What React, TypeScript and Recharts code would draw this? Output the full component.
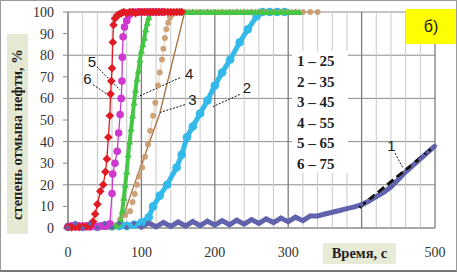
import React from "react";
import {
  CartesianGrid,
  Line,
  LineChart,
  ReferenceDot,
  ReferenceLine,
  XAxis,
  YAxis,
} from "recharts";

const W = 457;
const H = 272;

// grid / tick values (s, %)
const X_GRID = [0, 20, 40, 60, 80, 100, 120, 140, 160, 180, 200, 220, 240, 260, 280, 300, 320, 340, 360, 380, 400, 420, 440, 460, 480, 500];
const X_MAJOR = [0, 100, 200, 300, 400, 500];
const X_LABELS = [0, 100, 200, 300, 500];
const Y_TICKS = [0, 10, 20, 30, 40, 50, 60, 70, 80, 90, 100];

// 1 – 25 °C
const T1 = [0, 10, 20, 30, 40, 50, 60, 70, 80, 90, 100, 110, 120, 130, 140, 150, 160, 170, 180, 190, 200, 210, 220, 230, 240, 250, 260, 270, 280, 290, 300, 310, 320, 330, 340, 350, 360, 370, 380, 390, 400, 410, 420, 430, 440, 450, 460, 470, 480, 490, 500];
const V1 = [0.2, 2, 0, 2, 0.2, 2, 0.2, 2.2, 0.3, 2.2, 0.4, 2.4, 0.5, 2.6, 0.7, 2.8, 0.9, 3, 1.1, 3.2, 1.3, 3.4, 1.5, 3.6, 1.8, 3.9, 2.1, 4.2, 2.5, 4.6, 2.9, 5, 3.4, 5.6, 5.6, 6.5, 7.3, 8.1, 9, 9.8, 10.8, 12.5, 14.5, 16.5, 19, 22.5, 26, 29, 32, 35, 38];
// dashed fit on curve 1
const FIT1_T = [397, 500];
const FIT1_V = [9.5, 38];

// 2 – 35 °C
const T2 = [0, 10, 20, 30, 40, 50, 60, 70, 80, 90, 100, 110, 116, 125, 135, 148, 155, 162, 170, 180, 190, 200, 210, 221, 234, 245, 257, 265, 275, 285, 295];
const V2 = [0.5, 1, 0.5, 1, 0.5, 1, 0.8, 1, 1, 1.5, 2.5, 5, 10, 15, 20, 28, 34, 42, 47, 53, 59, 66, 72, 78, 86, 92, 98, 100, 100, 100, 100];

// 3 – 45 °C
const T3 = [0, 10, 20, 30, 40, 50, 60, 65, 71, 78, 84.5, 88, 91, 94, 97, 101, 105, 109, 112, 116, 119, 122.5, 125, 128, 130, 132, 134, 136.5, 139, 142, 146, 150, 160, 170, 180, 190, 200, 210, 220, 230, 240, 250, 260, 270, 280, 290, 300, 310, 320, 330, 340];
const V3 = [0.5, 0.8, 0.5, 0.8, 0.5, 0.8, 0.6, 1, 4, 6, 7.8, 12, 15.7, 20, 24, 28, 33, 38.7, 45, 52, 58, 66, 72, 78, 83, 88, 92, 95, 97.5, 99, 99.5, 100, 100, 100, 100, 100, 100, 100, 100, 100, 100, 100, 100, 100, 100, 100, 100, 100, 100, 100, 100];
// thin trend line next to curve 3
const TR3_T = [70, 85, 125, 159];
const TR3_V = [0, 15, 53, 100];

// 4 – 55 °C
const T4 = [0, 10, 20, 30, 40, 50, 60, 65, 70, 72, 74, 76, 78, 80, 82, 84, 86, 88, 90, 92, 94, 96, 98, 100, 102, 104, 106, 108, 110, 112, 115, 120, 125, 130, 135, 140, 145, 150, 155, 160, 165, 170, 175, 180, 185, 190, 195, 200, 205, 210, 215, 220, 225, 230, 235, 240, 245, 250, 255, 260, 265, 270, 275, 280, 285, 290, 295, 300, 305, 310, 315];
const V4 = [0.5, 0.5, 0.6, 0.5, 0.6, 0.5, 0.6, 1, 2, 4, 8, 14, 20, 26, 34, 40, 46, 52, 58, 64, 69, 73, 78, 82, 85, 88, 92, 95, 97.5, 99.5, 100, 100, 100, 100, 100, 100, 100, 100, 100, 100, 100, 100, 100, 100, 100, 100, 100, 100, 100, 100, 100, 100, 100, 100, 100, 100, 100, 100, 100, 100, 100, 100, 100, 100, 100, 100, 100, 100, 100, 100, 100];

// 5 – 65 °C
const T5 = [0, 5, 10, 15, 20, 25, 30, 35, 40, 45, 50, 54, 57, 60, 61, 64, 67, 69, 71, 72.5, 73.5, 74, 75, 77, 80, 83, 86, 90, 95, 100, 105, 110, 115, 120, 125, 130];
const V5 = [0.5, 1, 0.5, 1, 0.5, 1, 0.5, 1, 0.5, 1, 0.8, 1, 2, 16, 25, 30, 35.5, 44, 52.5, 60, 68, 79, 88.5, 93, 96, 98.5, 99.5, 100, 100, 100, 100, 100, 100, 100, 100, 100];

// 6 – 75 °C
const T6 = [0, 5, 10, 15, 20, 25, 30, 34, 37, 40, 44, 48, 51, 53, 55, 57, 58, 59, 60, 61, 62, 64, 67, 70, 73, 76, 80, 84, 88, 92, 96, 100, 104, 108, 112, 116, 120, 124, 128, 132, 136, 140, 144, 148, 152, 155];
const V6 = [0.5, 0.3, 0.6, 0.4, 0.8, 0.6, 1, 3, 6.5, 11, 17, 20, 26, 32, 42, 52, 62, 68, 74, 86, 94, 97, 98.5, 99, 99.5, 100, 99.5, 100, 100, 99.5, 100, 100, 100, 100, 100, 100, 100, 100, 100, 100, 100, 100, 100, 100, 100, 100];

const LEGEND = ["1 – 25", "2 – 35", "3 – 45", "4 – 55", "5 – 65", "6 – 75"];

// curve labels and their leader lines: [label, lx, ly, x1, y1, x2, y2]
const CALLOUTS: [string, number, number, number, number, number, number][] = [
  ["5", 32.7, 77, 39.5, 74.6, 70.8, 64],
  ["6", 26.6, 69, 34, 66.4, 60, 60.4],
  ["4", 165, 71.4, 152.6, 69.6, 95.4, 60.8],
  ["3", 169.6, 59.4, 159.4, 57.1, 125.3, 53.5],
  ["2", 243.9, 65, 234, 61.8, 197.5, 56.2],
  ["1", 440.7, 38.2, 445.5, 34.6, 456, 28],
];

const BLUE = "#6163ad";
const CYAN = "#33b9ea";
const TAN = "#c99a6b";
const BROWN = "#a8703e";
const GREEN = "#45c645";
const MAGENTA = "#cf38cf";
const RED = "#e01b24";

const zip = (t: number[], v: number[]) => t.map((x, i) => ({ t: x, v: v[i] }));

const SERIF = "'Liberation Serif', 'DejaVu Serif', serif";
const SANS = "'Liberation Sans', Arial, sans-serif";

const diamond = (fill: string, s: number) => (p: any) => {
  const { cx, cy, index } = p;
  if (cx == null || cy == null) return <g key={`d${index}`} />;
  return (
    <path
      key={`d${index}`}
      d={`M${cx},${cy - s}L${cx + s},${cy}L${cx},${cy + s}L${cx - s},${cy}Z`}
      fill={fill}
    />
  );
};

const triangle = (fill: string, s: number) => (p: any) => {
  const { cx, cy, index } = p;
  if (cx == null || cy == null) return <g key={`t${index}`} />;
  return (
    <path
      key={`t${index}`}
      d={`M${cx},${cy - s}L${cx + s},${cy + s * 0.8}L${cx - s},${cy + s * 0.8}Z`}
      fill={fill}
    />
  );
};

const circle = (fill: string, r: number, opacity = 1) => (p: any) => {
  const { cx, cy, index } = p;
  if (cx == null || cy == null) return <g key={`c${index}`} />;
  return <circle key={`c${index}`} cx={cx} cy={cy} r={r} fill={fill} fillOpacity={opacity} />;
};

// vertical grid: darker every 100 s
const vGridLine = (p: any) => {
  const major = X_MAJOR.includes(X_GRID[p.index]);
  return (
    <line
      key={`vg${p.index}`}
      x1={p.x1}
      y1={p.y1}
      x2={p.x2}
      y2={p.y2}
      stroke={major ? "#7c7c7c" : "#c8c8c8"}
      strokeWidth={major ? 1.3 : 1}
    />
  );
};

export default function App() {
  return (
    <div
      style={{
        position: "relative",
        width: W,
        height: H,
        background: "#fff",
        boxSizing: "border-box",
        border: "1px solid #9a9a9a",
        borderBottom: "2px solid #777",
        overflow: "hidden",
      }}
    >
      <style>{"body{margin:0}"}</style>
      <LineChart
        width={W - 2}
        height={H - 3}
        margin={{ top: 11, right: 21, bottom: 0, left: 7 }}
        style={{ position: "absolute", left: 0, top: 0 }}
      >
        <CartesianGrid stroke="#8a8a8a" vertical={vGridLine} />
        <XAxis
          type="number"
          dataKey="t"
          domain={[0, 500]}
          ticks={X_GRID}
          interval={0}
          tickFormatter={(v: number) => (X_LABELS.includes(v) ? String(v) : "")}
          tickLine={false}
          tickSize={0}
          tickMargin={19}
          height={42}
          axisLine={{ stroke: "#8a8a8a" }}
          tick={{ fontSize: 14, fill: "#333", fontFamily: SERIF }}
        />
        <YAxis
          type="number"
          domain={[0, 100]}
          ticks={Y_TICKS}
          width={60}
          tickSize={5}
          tickMargin={9}
          axisLine={{ stroke: "#8a8a8a" }}
          tickLine={{ stroke: "#8a8a8a" }}
          tick={{ fontSize: 14, fill: "#333", fontFamily: SERIF }}
        />

        <Line data={zip(T2, V2)} dataKey="v" stroke={CYAN} strokeWidth={5} dot={circle(CYAN, 4.3)} isAnimationActive={false} />
        <Line data={zip(T3, V3)} dataKey="v" stroke={TAN} strokeWidth={1} strokeOpacity={0.5} dot={circle(TAN, 3, 0.9)} isAnimationActive={false} />
        <Line data={zip(TR3_T, TR3_V)} dataKey="v" stroke={BROWN} strokeWidth={1.3} dot={false} isAnimationActive={false} />
        <Line data={zip(T4, V4)} dataKey="v" stroke={GREEN} strokeWidth={4} dot={triangle(GREEN, 3.6)} isAnimationActive={false} />
        <Line data={zip(T5, V5)} dataKey="v" stroke={MAGENTA} strokeWidth={1.3} dot={circle(MAGENTA, 3.8)} isAnimationActive={false} />
        <Line data={zip(T6, V6)} dataKey="v" stroke={RED} strokeWidth={1.3} dot={diamond(RED, 4.3)} isAnimationActive={false} />
        <Line data={zip(T1, V1)} dataKey="v" stroke={BLUE} strokeWidth={5} dot={diamond(BLUE, 2.6)} isAnimationActive={false} />
        <Line
          data={zip(FIT1_T, FIT1_V)}
          dataKey="v"
          stroke="#111"
          strokeWidth={3}
          strokeDasharray="8 4"
          dot={false}
          isAnimationActive={false}
        />

        {CALLOUTS.map(([name, , , x1, y1, x2, y2]) => (
          <ReferenceLine
            key={`l${name}`}
            segment={[
              { x: x1, y: y1 },
              { x: x2, y: y2 },
            ]}
            stroke="#111"
            strokeWidth={1}
            strokeDasharray="2 1.5"
          />
        ))}
        {CALLOUTS.map(([name, lx, ly]) => (
          <ReferenceDot
            key={`n${name}`}
            x={lx}
            y={ly}
            r={0}
            stroke="none"
            fill="none"
            label={{ value: name, position: "center", fontSize: 15, fill: "#1a1a1a", fontFamily: SANS }}
          />
        ))}
      </LineChart>

      {/* y axis title */}
      <div
        style={{
          position: "absolute",
          left: 6,
          top: 33,
          width: 21,
          height: 200,
          background: "#e5e9d4",
          display: "flex",
          alignItems: "center",
          justifyContent: "center",
        }}
      >
        <span
          style={{
            transform: "rotate(-90deg)",
            whiteSpace: "nowrap",
            fontFamily: SERIF,
            fontWeight: 700,
            fontSize: 14.5,
            color: "#1f1f1f",
          }}
        >
          степень отмыва нефти, %
        </span>
      </div>

      {/* x axis title */}
      <div
        style={{
          position: "absolute",
          left: 322,
          top: 242,
          width: 73,
          height: 21,
          background: "#e8ebd6",
          fontFamily: SERIF,
          fontWeight: 700,
          fontSize: 14.5,
          color: "#1f1f1f",
          lineHeight: "21px",
          textAlign: "center",
        }}
      >
        Время, с
      </div>

      {/* legend box */}
      <div
        style={{
          position: "absolute",
          left: 291,
          top: 50,
          width: 56,
          height: 122,
          background: "#fff",
          fontFamily: SERIF,
          fontWeight: 700,
          fontSize: 15,
          color: "#1f1f1f",
        }}
      >
        {LEGEND.map((s, i) => (
          <div key={s} style={{ position: "absolute", left: 5, top: 1 + i * 20.5, lineHeight: "18px", whiteSpace: "nowrap" }}>
            {s}
          </div>
        ))}
      </div>

      {/* panel letter */}
      <div
        style={{
          position: "absolute",
          left: 405,
          top: 8,
          width: 50,
          height: 35,
          background: "#ffff00",
          fontFamily: SANS,
          fontSize: 16,
          color: "#1a1a1a",
          lineHeight: "35px",
          textAlign: "center",
        }}
      >
        б)
      </div>
    </div>
  );
}
